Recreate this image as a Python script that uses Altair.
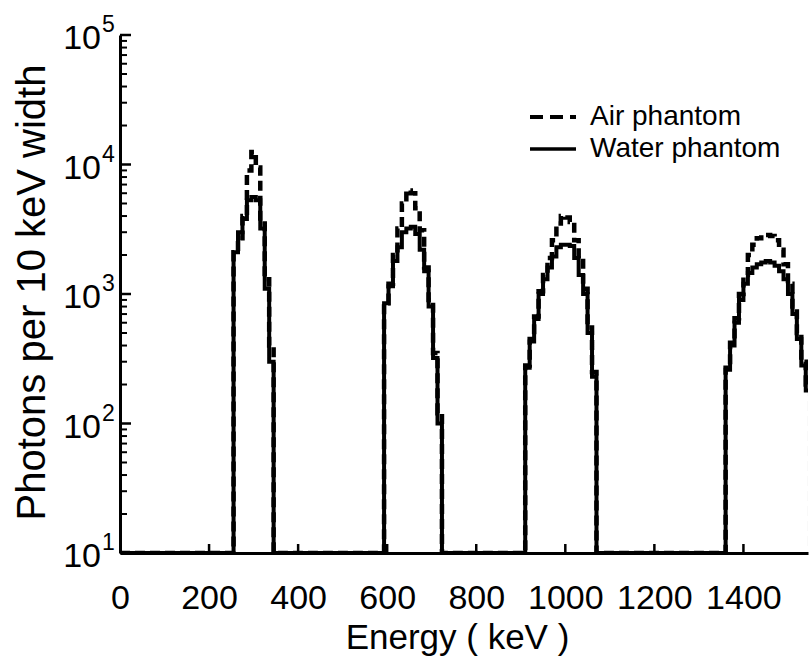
import altair as alt
import pandas as pd

FONT = "Liberation Sans, Arial, Helvetica, sans-serif"

# ---- data (10 keV bins; left bin edges, last entry = closing edge) ----
p1_energy = [255, 265, 275, 285, 295, 305, 315, 325, 335, 345]
p1_air = [2100, 2700, 4000, 9000, 12500, 9500, 3500, 1300, 400]
p1_water = [2100, 3000, 3800, 5300, 5600, 5300, 3200, 1100, 300]

p2_energy = [593, 603, 613, 623, 633, 643, 653, 663, 673, 683, 693, 703, 713, 723]
p2_air = [850, 1200, 2000, 3200, 5000, 6300, 6000, 4600, 3100, 1600, 900, 350, 120]
p2_water = [850, 1150, 1800, 2300, 3000, 3200, 3300, 2900, 2200, 1500, 800, 320, 100]

p3_energy = [910, 920, 930, 940, 950, 960, 970, 980, 990, 1000, 1010, 1020, 1030, 1040, 1050, 1060, 1070]
p3_air = [280, 450, 670, 1050, 1400, 1900, 2600, 3500, 4000, 3900, 3600, 2600, 1800, 1100, 550, 250]
p3_water = [270, 430, 640, 1000, 1300, 1600, 1950, 2300, 2400, 2400, 2350, 1900, 1400, 1000, 500, 230]

p4_energy = [1360, 1370, 1380, 1390, 1400, 1410, 1420, 1430, 1440, 1450, 1460, 1470, 1480, 1490, 1500,
             1510, 1520, 1530, 1540, 1550]
p4_air = [270, 420, 650, 1000, 1400, 2000, 2400, 2700, 2850, 2850, 2800, 2600, 2200, 1700, 1200, 800, 500, 300, 200]
p4_water = [260, 400, 600, 900, 1200, 1450, 1600, 1700, 1750, 1800, 1750, 1650, 1500, 1300, 1000, 700, 450, 280, 180]

baseline = 10
x_max = 1545
x_tick_values = [0, 200, 400, 600, 800, 1000, 1200, 1400]
y_decades = [10, 100, 1000, 10000, 100000]
y_exponents = ["1", "2", "3", "4", "5"]
legend_labels = ["Air phantom", "Water phantom"]


def build_series(peaks):
    rows = [(0, baseline)]
    for energies, vals in peaks:
        for e, v in zip(energies[:-1], vals):
            rows.append((e, v))
        rows.append((energies[-1], baseline))
    rows.append((x_max + 10, baseline))
    return pd.DataFrame(rows, columns=["energy", "counts"])


air_df = build_series([(p1_energy, p1_air), (p2_energy, p2_air), (p3_energy, p3_air), (p4_energy, p4_air)])
water_df = build_series([(p1_energy, p1_water), (p2_energy, p2_water), (p3_energy, p3_water), (p4_energy, p4_water)])

xscale = alt.Scale(domain=[0, x_max], nice=False, zero=False)
yscale = alt.Scale(type="log", domain=[10, 100000], nice=False)

x_axis = alt.Axis(values=x_tick_values, format="d", labelFontSize=34, labelFont=FONT, labelColor="black",
                  ticks=False, tickSize=0, labelPadding=55, labelBaseline="alphabetic",
                  labelFlush=False, labelOverlap=False, grid=False, domainColor="black", domainWidth=3,
                  title="Energy ( keV )", titleFontSize=35, titleFont=FONT, titleFontWeight="normal",
                  titleColor="black", titleX=337, titleY=95, titleBaseline="alphabetic")
y_axis = alt.Axis(labels=False, ticks=False, tickSize=0, grid=False, domainColor="black", domainWidth=3,
                  title="Photons per 10 keV width", titleFontSize=40, titleFont=FONT,
                  titleFontWeight="normal", titleColor="black", titleAngle=270, titleX=-76, titleY=257,
                  titleBaseline="alphabetic", titleAlign="center")


def X(field):
    return alt.X(field, scale=xscale, axis=x_axis)


def Y(field):
    return alt.Y(field, scale=yscale, axis=y_axis)


air_line = alt.Chart(air_df).mark_line(interpolate="step-after", color="black", strokeWidth=4.5,
                                       strokeDash=[10, 5], clip=True).encode(
    x=X("energy:Q"), y=Y("counts:Q"))
water_line = alt.Chart(water_df).mark_line(interpolate="step-after", color="black", strokeWidth=4,
                                           clip=True).encode(
    x=X("energy:Q"), y=Y("counts:Q"))

# inward ticks on the x axis
xt_df = pd.DataFrame({"energy": x_tick_values[1:]})
x_ticks = alt.Chart(xt_df).mark_rule(color="black", strokeWidth=2.5).encode(
    x=X("energy:Q"), y=alt.value(518), y2=alt.value(509))

# inward ticks on the y axis (major + minor)
major_df = pd.DataFrame({"counts": y_decades})
minor_vals = [m * d for d in y_decades[:-1] for m in range(2, 10)]
minor_df = pd.DataFrame({"counts": minor_vals})
y_major = alt.Chart(major_df).mark_rule(color="black", strokeWidth=2.5).encode(
    y=Y("counts:Q"), x=alt.value(0), x2=alt.value(11))
y_minor = alt.Chart(minor_df).mark_rule(color="black", strokeWidth=2).encode(
    y=Y("counts:Q"), x=alt.value(0), x2=alt.value(7))

# y tick labels 10^n
ylab_df = pd.DataFrame({"counts": y_decades, "exp": y_exponents})
y_ten = alt.Chart(ylab_df).mark_text(align="right", baseline="middle", fontSize=34, font=FONT,
                                     color="black", dy=4).encode(
    y=Y("counts:Q"), x=alt.value(-19), text=alt.value("10"))
y_exp = alt.Chart(ylab_df).mark_text(align="left", baseline="middle", fontSize=23, font=FONT,
                                     color="black", dy=-10).encode(
    y=Y("counts:Q"), x=alt.value(-18), text="exp:N")

# legend
one = pd.DataFrame({"a": [0]})
leg_air_line = alt.Chart(one).mark_rule(color="black", strokeWidth=4, strokeDash=[13, 7]).encode(
    x=alt.value(410), x2=alt.value(456), y=alt.value(82))
leg_water_line = alt.Chart(one).mark_rule(color="black", strokeWidth=3.5).encode(
    x=alt.value(410), x2=alt.value(456), y=alt.value(114))
leg_air_text = alt.Chart(one).mark_text(align="left", baseline="middle", fontSize=28, font=FONT,
                                        color="black", text=legend_labels[0]).encode(
    x=alt.value(470), y=alt.value(82))
leg_water_text = alt.Chart(one).mark_text(align="left", baseline="middle", fontSize=28, font=FONT,
                                          color="black", text=legend_labels[1]).encode(
    x=alt.value(470), y=alt.value(114))

chart = alt.layer(
    air_line, water_line, x_ticks, y_major, y_minor, y_ten, y_exp,
    leg_air_line, leg_water_line, leg_air_text, leg_water_text,
).properties(
    width=688, height=518,
    autosize=alt.AutoSizeParams(type="none"),
    padding={"left": 120, "top": 35, "right": 1, "bottom": 109},
    background="white",
).configure_view(stroke=None)

chart.save("out.html", embed_options={"renderer": "svg", "actions": False})
